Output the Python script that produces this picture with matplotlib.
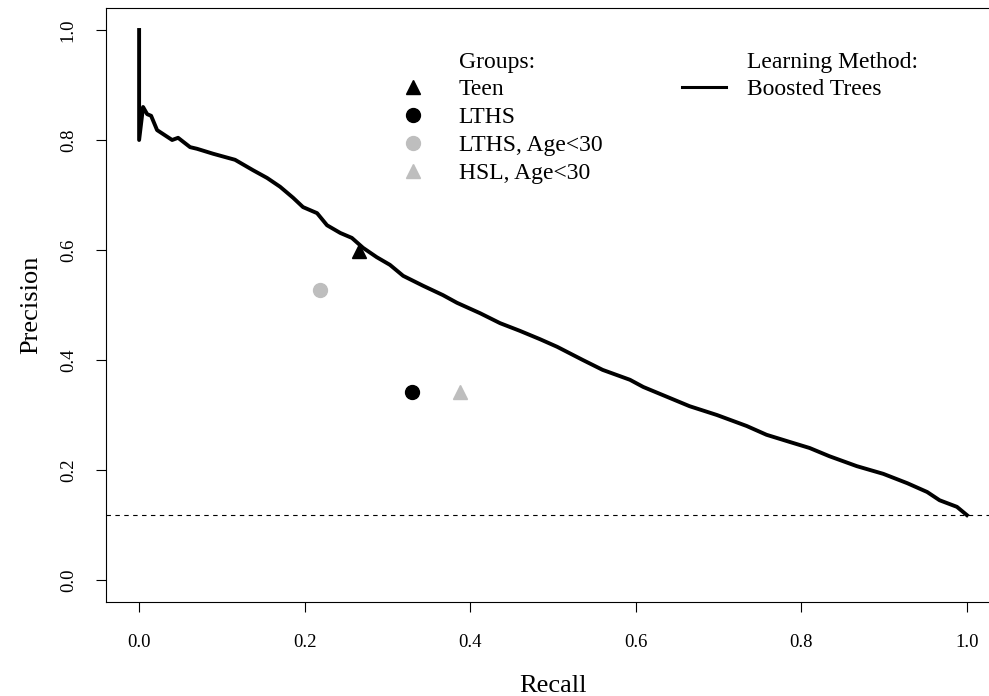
import matplotlib
matplotlib.use("Agg")
import matplotlib.pyplot as plt
from matplotlib.lines import Line2D

# ---- data ----
recall = [0.0, 0.0, 0.0048, 0.0097, 0.0145, 0.0217, 0.0399, 0.0471, 0.0616, 0.070,
          0.0894, 0.1159, 0.1377, 0.1546, 0.1703, 0.186, 0.198, 0.215, 0.227, 0.243,
          0.257, 0.2705, 0.287, 0.303, 0.319, 0.343, 0.367, 0.384, 0.412, 0.436,
          0.460, 0.484, 0.505, 0.536, 0.560, 0.593, 0.609, 0.633, 0.665, 0.698,
          0.734, 0.758, 0.786, 0.810, 0.834, 0.867, 0.899, 0.928, 0.952, 0.967,
          0.988, 1.0]
precision = [1.0, 0.8, 0.86, 0.847, 0.844, 0.818, 0.8, 0.804, 0.787, 0.784,
             0.775, 0.764, 0.745, 0.731, 0.715, 0.695, 0.678, 0.667, 0.645, 0.631,
             0.622, 0.604, 0.587, 0.573, 0.553, 0.535, 0.518, 0.504, 0.485, 0.467,
             0.453, 0.438, 0.424, 0.4, 0.382, 0.364, 0.351, 0.336, 0.316, 0.3,
             0.28, 0.264, 0.251, 0.24, 0.225, 0.207, 0.193, 0.176, 0.16, 0.145,
             0.133, 0.118]
baseline = 0.118

groups = ["Teen", "LTHS", "LTHS, Age<30", "HSL, Age<30"]
group_recall = [0.266, 0.330, 0.219, 0.388]
group_precision = [0.598, 0.342, 0.527, 0.342]
group_markers = ["^", "o", "o", "^"]
group_colors = ["black", "black", "#BEBEBE", "#BEBEBE"]

xticks = [0.0, 0.2, 0.4, 0.6, 0.8, 1.0]
yticks = [0.0, 0.2, 0.4, 0.6, 0.8, 1.0]

# ---- figure ----
plt.rcParams['font.family'] = ['Liberation Serif', 'DejaVu Serif']
W, H = 989, 696
fig = plt.figure(figsize=(W / 100, H / 100), dpi=100)
left, right, top, bottom = 106, 1000, 8, 602
ax = fig.add_axes([left / W, 1 - bottom / H, (right - left) / W, (bottom - top) / H])
ax.set_xlim(-0.04, 1.04)
ax.set_ylim(-0.04, 1.04)

ax.plot(recall, precision, color="black", lw=2.8, solid_joinstyle="round")
ax.axhline(baseline, color="black", lw=0.8, linestyle=(0, (4, 4)))

for r, p, m, c in zip(group_recall, group_precision, group_markers, group_colors):
    ax.plot([r], [p], marker=m, color=c, markersize=10.5 if m == "^" else 10,
            linestyle="none")

ax.set_xticks(xticks)
ax.set_yticks(yticks)
ax.set_xticklabels([f"{v:.1f}" for v in xticks], fontsize=13.5)
ax.set_yticklabels([f"{v:.1f}" for v in yticks], fontsize=13.5, rotation=90, va="center")
ax.tick_params(axis="x", direction="out", length=7, width=0.8, pad=16)
ax.tick_params(axis="y", direction="out", length=7, width=0.8, pad=14)
for s in ax.spines.values():
    s.set_linewidth(0.8)

ax.set_xlabel("Recall", fontsize=19, labelpad=17)
ax.set_ylabel("Precision", fontsize=19, labelpad=12.5)

# legends
g_handles = [Line2D([], [], linestyle="none")]
g_labels = ["Groups:"] + groups
for m, c in zip(group_markers, group_colors):
    g_handles.append(Line2D([], [], marker=m, color=c, linestyle="none",
                            markersize=10.5 if m == "^" else 10))
leg1 = ax.legend(g_handles, g_labels, loc="upper left", frameon=False,
                 bbox_to_anchor=(401 / W, 1 - 51 / H), bbox_transform=fig.transFigure,
                 fontsize=17, handlelength=1.0, handletextpad=1.45,
                 labelspacing=0.27, borderpad=0, borderaxespad=0)
ax.add_artist(leg1)

m_handles = [Line2D([], [], linestyle="none"),
             Line2D([], [], color="black", lw=2.2)]
m_labels = ["Learning Method:", "Boosted Trees"]
ax.legend(m_handles, m_labels, loc="upper left", frameon=False,
          bbox_to_anchor=(682 / W, 1 - 51 / H), bbox_transform=fig.transFigure,
          fontsize=17, handlelength=1.85, handletextpad=0.9,
          labelspacing=0.27, borderpad=0, borderaxespad=0)

fig.savefig("out.png", dpi=100)
